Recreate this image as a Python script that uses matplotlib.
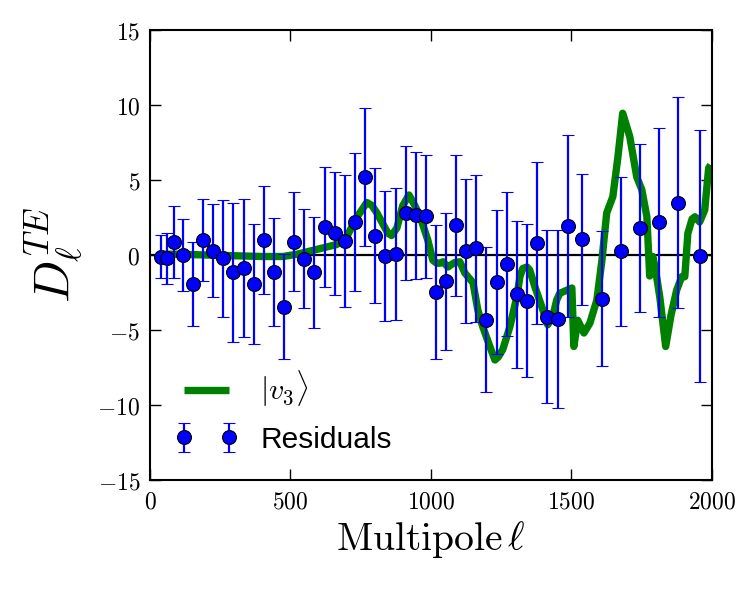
import matplotlib
matplotlib.use("Agg")
import matplotlib.pyplot as plt
from matplotlib.ticker import FuncFormatter, MultipleLocator
from matplotlib.legend_handler import HandlerErrorbar, HandlerLine2D
from matplotlib.container import ErrorbarContainer
from matplotlib.lines import Line2D

plt.rcParams['mathtext.fontset'] = 'cm'

# Residual data points
ell = [39, 60, 85, 117, 153, 189, 224, 260, 295, 334, 370, 406, 441, 477, 512,
       548, 584, 623, 658, 694, 730, 765, 801, 836, 875, 911, 947, 982, 1018,
       1053, 1089, 1125, 1160, 1196, 1235, 1270, 1306, 1342, 1377, 1413, 1452,
       1488, 1537, 1609, 1676, 1743, 1811, 1879, 1957]
resid = [-0.1, -0.2, 0.85, 0.0, -1.95, 1.0, 0.3, -0.2, -1.15, -0.85, -1.9, 1.0,
         -1.15, -3.45, 0.9, -0.25, -1.15, 1.9, 1.45, 0.95, 2.2, 5.2, 1.3, -0.05,
         0.1, 2.8, 2.65, 2.6, -2.45, -1.75, 2.0, 0.25, 0.45, -4.3, -1.8, -0.6,
         -2.6, -3.05, 0.8, -4.1, -4.25, 1.95, 1.05, -2.9, 0.25, 1.8, 2.2, 3.5, -0.05]
err = [1.45, 1.7, 2.4, 2.4, 2.8, 2.75, 3.1, 3.9, 4.65, 4.6, 4.0, 3.6, 3.6, 3.5,
       3.3, 3.3, 3.7, 4.0, 4.1, 4.4, 4.6, 4.6, 4.5, 4.35, 4.4, 4.45, 4.25, 4.1,
       4.45, 4.55, 4.7, 4.8, 4.9, 4.85, 4.8, 4.8, 4.9, 5.1, 5.4, 5.75, 5.95,
       6.05, 4.35, 4.5, 4.95, 5.6, 6.3, 7.05, 8.4]

# |v3> curve
v3_ell = [30, 100, 200, 300, 400, 473, 523, 600, 665, 700, 736, 772, 790, 808,
          847, 860, 879, 900, 922, 940, 961, 989, 1007, 1021, 1032, 1043, 1061,
          1068, 1085, 1103, 1121, 1150, 1167, 1185, 1210, 1228, 1240, 1256, 1281,
          1306, 1317, 1327, 1342, 1352, 1370, 1395, 1416, 1434, 1448, 1459, 1484,
          1502, 1509, 1523, 1545, 1566, 1591, 1609, 1626, 1648, 1666, 1683, 1708,
          1733, 1751, 1769, 1779, 1790, 1800, 1815, 1836, 1855, 1875, 1893, 1904,
          1915, 1930, 1940, 1957, 1975, 1989, 1996]
v3_val = [0.05, 0.05, 0.0, -0.05, -0.1, -0.1, 0.05, 0.4, 0.7, 1.2, 2.5, 3.5, 3.3,
          2.8, 1.45, 1.3, 1.8, 3.3, 4.0, 3.4, 2.6, 1.0, -0.35, -0.55, -0.55, -0.45,
          -0.8, -0.7, -0.5, -0.45, -1.2, -1.85, -3.65, -4.8, -6.1, -7.0, -6.8, -6.3,
          -4.8, -2.8, -1.45, -0.9, -0.8, -1.0, -2.1, -3.45, -4.65, -4.1, -3.0, -2.55,
          -2.35, -2.2, -6.1, -4.35, -5.2, -4.55, -3.0, -0.35, 2.8, 3.9, 6.55, 9.45,
          7.9, 5.2, 4.35, 2.55, -1.4, -0.1, -1.0, -2.8, -6.1, -4.0, -2.35, -1.45,
          -1.45, 1.45, 2.4, 2.55, 2.2, 3.0, 5.8, 6.0]

fig = plt.figure(figsize=(7.5, 6), dpi=100, facecolor='white')
ax = fig.add_axes([0.2, 0.2, 0.749, 0.75])

ax.axhline(0, color='black', lw=1.6, zorder=1)
ax.plot(v3_ell, v3_val, color='green', lw=5.3, zorder=2, label=r'$|v_3\rangle$',
        solid_capstyle='butt')
ax.errorbar(ell, resid, yerr=err, fmt='o', color='blue', ecolor='blue',
            mec='black', mew=0.8, ms=10, elinewidth=1.6, capsize=4.5,
            capthick=1.6, zorder=3, label='Residuals')

ax.set_xlim(0, 2000)
ax.set_ylim(-15, 15)
ax.xaxis.set_major_locator(MultipleLocator(500))
ax.yaxis.set_major_locator(MultipleLocator(5))
fmt = FuncFormatter(lambda v, p: r'$%d$' % int(round(v)))
ax.xaxis.set_major_formatter(fmt)
ax.yaxis.set_major_formatter(fmt)
ax.tick_params(direction='in', length=8, width=1, top=True, right=True,
               labelsize=17, pad=7)
for s in ax.spines.values():
    s.set_linewidth(1.5)

ax.set_xlabel(r'$\mathrm{Multipole}\,\ell$', fontsize=28.5, labelpad=4)
ax.set_ylabel(r'$D_\ell^{TE}$', fontsize=36, labelpad=8)

leg = ax.legend(loc='lower left', bbox_to_anchor=(0.058, 0.058), frameon=False,
                numpoints=2, handlelength=1.6, handletextpad=1.0,
                labelspacing=0.55, borderaxespad=0, borderpad=0,
                handler_map={ErrorbarContainer: HandlerErrorbar(marker_pad=0.06),
                             Line2D: HandlerLine2D(marker_pad=0.06)},
                prop={'family': 'Liberation Sans', 'size': 21.5})

fig.savefig('out.png', dpi=100, facecolor='white')
